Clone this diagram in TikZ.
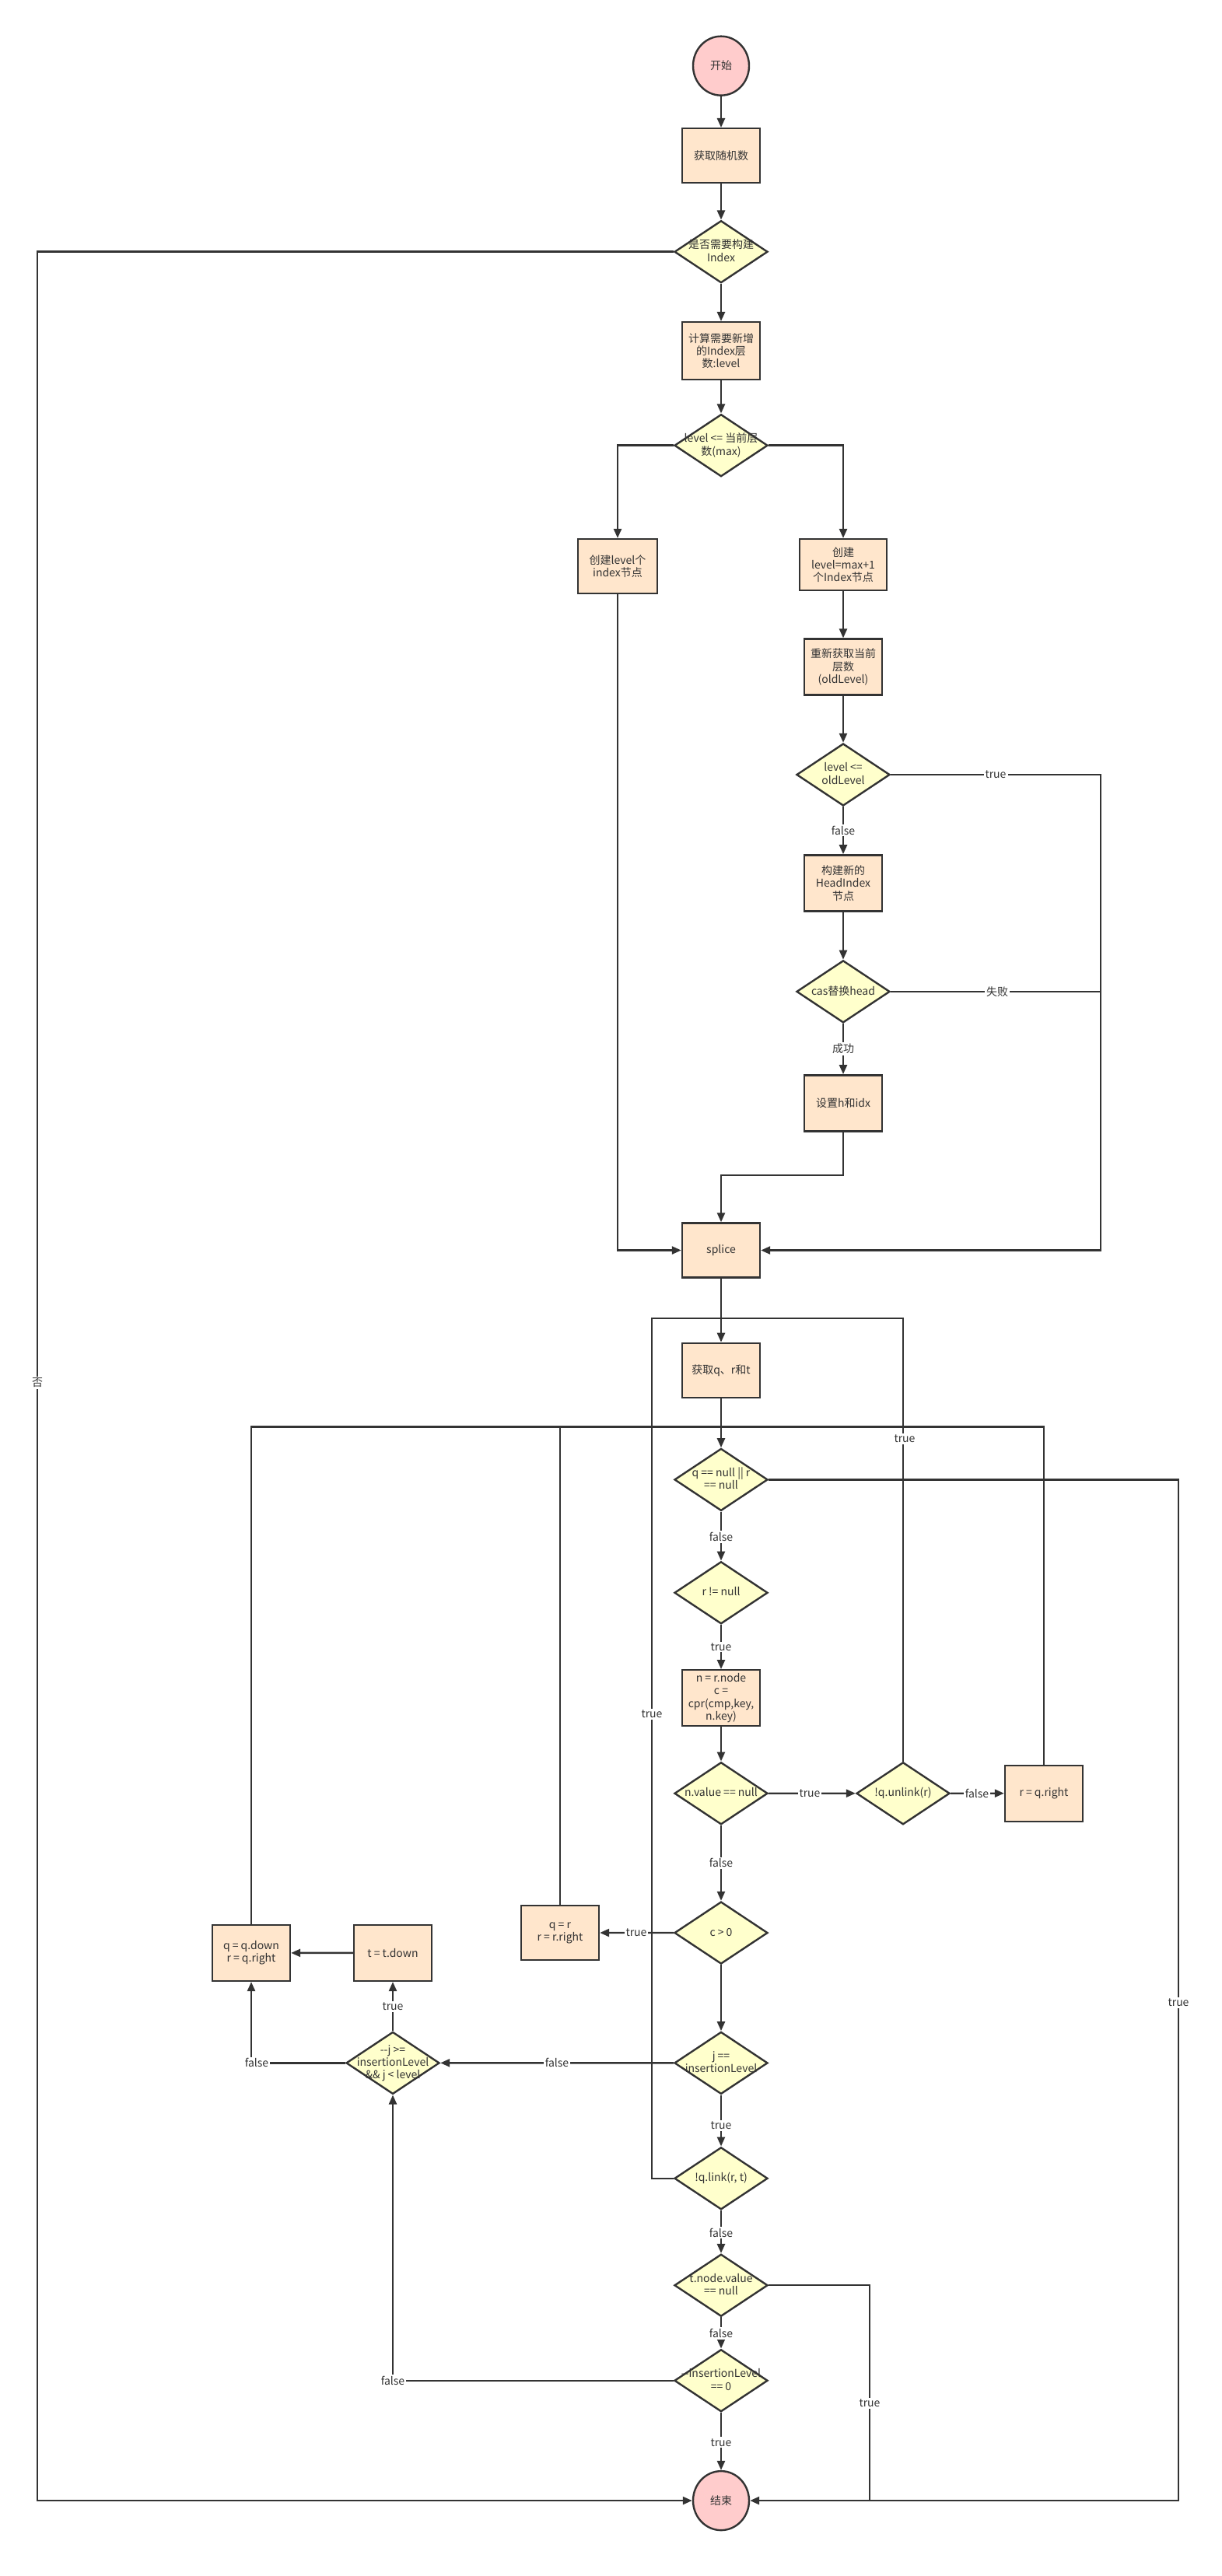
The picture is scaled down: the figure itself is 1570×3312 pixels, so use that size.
\documentclass[tikz,border=0pt]{standalone}
\usepackage{fontspec}
\newfontfamily\cjk{Noto Sans CJK SC}
\usetikzlibrary{shapes.geometric,arrows.meta}
\definecolor{lncol}{HTML}{333333}
\definecolor{boxf}{HTML}{FFE6CC}
\definecolor{decf}{HTML}{FFFFCC}
\definecolor{termf}{HTML}{FFCCCC}
\newcommand\dtext[1]{\smash{\makebox[0pt]{\raisebox{-2.2pt}{\begin{tabular}{@{}c@{}}#1\end{tabular}}}}}
\tikzset{
  base/.style={draw=lncol, line width=1.2pt, font=\cjk\fontsize{7}{8.2}\selectfont, text=lncol},
  term/.style={base, ellipse, fill=termf, minimum width=36pt, minimum height=38pt, inner sep=0pt},
  proc/.style={base, rectangle, fill=boxf, minimum width=50pt, minimum height=35pt, inner sep=1pt, align=center},
  dec/.style={base, diamond, fill=decf, minimum width=60pt, minimum height=40pt, inner sep=0pt},
  wire/.style={draw=lncol, line width=1.2pt},
  arr/.style={wire, -{Triangle[length=6pt,width=5pt]}},
  lbl/.style={fill=white, inner sep=1pt, font=\cjk\fontsize{7}{8.2}\selectfont, text=lncol},
}
\begin{document}
\begin{tikzpicture}[x=0.5pt,y=-0.5pt]
\fill[white] (0,0) rectangle (1570,3312);
\useasboundingbox (0,0) rectangle (1570,3312);
\begin{scope}[yscale=0.996]
% nodes
\node[term] (start) at (927,85) {开始};
\node[proc] (rand) at (927,201) {获取随机数};
\node[dec] (d1) at (927,325) {\dtext{是否需要构建\\Index}};
\node[proc, minimum height=37pt] (calc) at (927,453) {计算需要新增\\的Index层\\数:level};
\node[dec] (d2) at (927,575) {\dtext{level <= 当前层\\数(max)}};
\node[proc, minimum width=51pt] (lbox) at (794,731) {创建level个\\index节点};
\node[proc, minimum width=56pt, minimum height=33pt] (rbox) at (1084,729) {创建\\level=max+1\\个Index节点};
\node[proc, minimum height=36pt] (reget) at (1084,861) {重新获取当前\\层数\\(oldLevel)};
\node[dec] (d3) at (1084,1000) {\dtext{level <=\\oldLevel}};
\node[proc, minimum height=36pt] (newhead) at (1084,1140) {构建新的\\HeadIndex\\节点};
\node[dec] (cas) at (1084,1280) {\dtext{cas替换head}};
\node[proc, minimum height=36pt] (setidx) at (1084,1424) {设置h和idx};
\node[proc] (splice) at (927,1614) {splice};
\node[proc] (getqrt) at (927,1769) {获取q、r和t};
\node[dec] (qnull) at (927,1910) {\dtext{q == null || r\\== null}};
\node[dec] (rnn) at (927,2056) {\dtext{r != null}};
\node[proc, minimum height=36pt] (nbox) at (927,2192) {n = r.node\\c =\\cpr(cmp,key,\\n.key)};
\node[dec] (nval) at (927,2315) {\dtext{n.value == null}};
\node[dec] (unlink) at (1161,2315) {\dtext{!q.unlink(r)}};
\node[proc, minimum height=36pt] (rqr) at (1342,2315) {r = q.right};
\node[dec] (cgt) at (927,2495) {\dtext{c > 0}};
\node[proc] (qr) at (720,2495) {q = r\\r = r.right};
\node[dec] (jeq) at (927,2663) {\dtext{j ==\\insertionLevel}};
\node[dec] (jdec) at (505,2663) {\dtext{-{}-j >=\\insertionLevel\\\&\& j < level}};
\node[proc, minimum height=36pt] (tdown) at (505,2521) {t = t.down};
\node[proc, minimum height=36pt] (qdown) at (323,2521) {q = q.down\\r = q.right};
\node[dec] (link) at (927,2812) {\dtext{!q.link(r, t)}};
\node[dec] (tnode) at (927,2950) {\dtext{t.node.value\\== null}};
\node[dec] (ins) at (927,3073) {\dtext{-{}-insertionLevel\\== 0}};
\node[term] (end) at (927,3228) {结束};

% bend points
\coordinate (kR1) at (1415,1000);
\coordinate (kR2) at (1415,1614);
\coordinate (kR3) at (1415,1280);
\coordinate (kS) at (1084,1517);
\coordinate (kLoopL) at (838,1702);
\coordinate (kLoopJ) at (927,1702);
\coordinate (kRet) at (927,1842);
\coordinate (kE1) at (1515,3228);
\coordinate (kE2) at (1118,3228);
\coordinate (kNo) at (48,3228);

% connectors
\draw[arr] (start) -- (rand);
\draw[arr] (rand) -- (d1);
\draw[arr] (d1) -- (calc);
\draw[arr] (calc) -- (d2);
\draw[arr] (d2.west) -| (lbox.north);
\draw[arr] (d2.east) -| (rbox.north);
\draw[arr] (rbox) -- (reget);
\draw[arr] (reget) -- (d3);
\draw[arr] (d3) -- (newhead);
\draw[arr] (newhead) -- (cas);
\draw[arr] (cas) -- (setidx);
\draw[arr] (d3.east) -- (kR1) -- (kR2) -- (splice.east);
\draw[wire] (cas.east) -- (kR3);
\draw[arr] (setidx.south) -- (kS) -| (splice.north);
\draw[arr] (lbox.south) |- (splice.west);
\draw[arr] (splice) -- (getqrt);
\draw[wire] (link.west) -| (kLoopL) -- (kLoopJ);
\draw[wire] (unlink.north) |- (kLoopJ);
\draw[arr] (getqrt) -- (qnull);
\draw[wire] (qdown.north) |- (kRet);
\draw[wire] (qr.north) |- (kRet);
\draw[wire] (rqr.north) |- (kRet);
\draw[arr] (qnull.east) -| (kE1) -- (end.east);
\draw[arr] (qnull) -- (rnn);
\draw[arr] (rnn) -- (nbox);
\draw[arr] (nbox) -- (nval);
\draw[arr] (nval) -- (unlink);
\draw[arr] (unlink) -- (rqr);
\draw[arr] (nval) -- (cgt);
\draw[arr] (cgt) -- (qr);
\draw[arr] (cgt) -- (jeq);
\draw[arr] (jeq) -- (jdec);
\draw[arr] (jdec) -- (tdown);
\draw[arr] (tdown) -- (qdown);
\draw[arr] (jdec.west) -| (qdown.south);
\draw[arr] (jeq) -- (link);
\draw[arr] (link) -- (tnode);
\draw[wire] (tnode.east) -| (kE2);
\draw[arr] (tnode) -- (ins);
\draw[arr] (ins.west) -| (jdec.south);
\draw[arr] (ins) -- (end);
\draw[arr] (d1.west) -| (kNo) -- (end.west);

% labels
\node[lbl] (lb1) at (1084,1072) {false};
\node[lbl] (lb2) at (1280,1000) {true};
\node[lbl] (lb3) at (1282,1280) {失败};
\node[lbl] (lb4) at (1084,1354) {成功};
\node[lbl] (lb5) at (1163,1857) {true};
\node[lbl] (lb6) at (838,2213) {true};
\node[lbl] (lb7) at (927,1984) {false};
\node[lbl] (lb8) at (927,2126) {true};
\node[lbl] (lb9) at (1041,2315) {true};
\node[lbl] (lb10) at (1256,2315) {false};
\node[lbl] (lb11) at (927,2405) {false};
\node[lbl] (lb12) at (818,2495) {true};
\node[lbl] (lb13) at (716,2663) {false};
\node[lbl] (lb14) at (505,2590) {true};
\node[lbl] (lb15) at (330,2663) {false};
\node[lbl] (lb16) at (927,2744) {true};
\node[lbl] (lb17) at (927,2882) {false};
\node[lbl] (lb18) at (1118,3102) {true};
\node[lbl] (lb19) at (927,3012) {false};
\node[lbl] (lb20) at (505,3073) {false};
\node[lbl] (lb21) at (927,3153) {true};
\node[lbl] (lb22) at (1515,2585) {true};
\node[lbl] (lb23) at (48,1785) {否};
\end{scope}
\end{tikzpicture}
\end{document}
